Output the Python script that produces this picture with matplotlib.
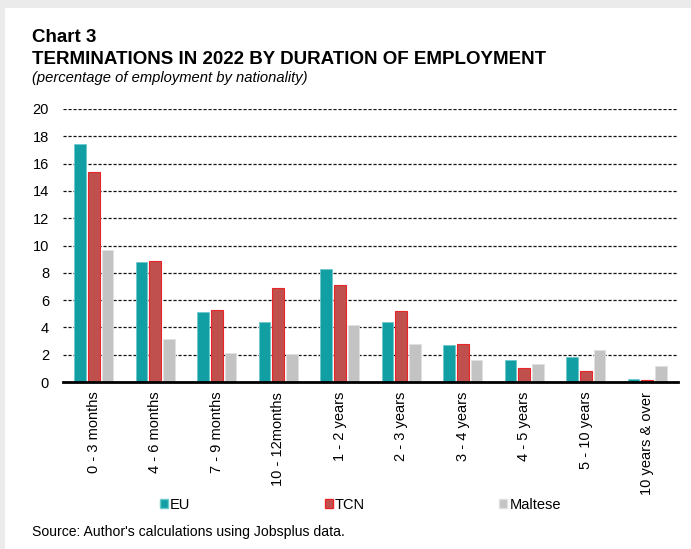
import matplotlib
matplotlib.use("Agg")
import matplotlib.pyplot as plt
from matplotlib.patches import Patch, Rectangle
import numpy as np

plt.rcParams['font.family'] = ['Liberation Sans', 'DejaVu Sans']

durations = ["0 - 3 months", "4 - 6 months", "7 - 9 months", "10 - 12months",
             "1 - 2 years", "2 - 3 years", "3 - 4 years", "4 - 5 years",
             "5 - 10 years", "10 years & over"]
eu = [17.4, 8.8, 5.1, 4.4, 8.3, 4.4, 2.7, 1.6, 1.8, 0.2]
tcn = [15.4, 8.85, 5.3, 6.9, 7.1, 5.2, 2.75, 1.0, 0.8, 0.13]
maltese = [9.7, 3.15, 2.1, 2.05, 4.15, 2.8, 1.6, 1.3, 2.35, 1.15]
series_names = ["EU", "TCN", "Maltese"]

teal = "#119fa4"
red = "#c0504d"
grey = "#c3c3c3"

fig = plt.figure(figsize=(6.91, 5.49), dpi=100, facecolor="white")
# grey frame along the top and left edges
frame = "#ebebeb"
fig.patches.append(Rectangle((0, 1 - 8 / 549), 1, 8 / 549, transform=fig.transFigure,
                             facecolor=frame, edgecolor="none"))
fig.patches.append(Rectangle((0, 0), 5 / 691, 1, transform=fig.transFigure,
                             facecolor=frame, edgecolor="none"))

ax = fig.add_axes([63 / 691, 1 - 382 / 549, 615 / 691, 273 / 549])
ax.set_facecolor("none")
ax.set_zorder(2)

x = np.arange(len(durations))
w = 0.19
step = 0.225
ax.bar(x - step, eu, w, color=teal, edgecolor="#6cc9cc", linewidth=0.6, zorder=3)
ax.bar(x, tcn, w, color=red, edgecolor="#e8262a", linewidth=0.8, zorder=3)
ax.bar(x + step, maltese, w, color=grey, edgecolor="#e0e0e0", linewidth=0.6, zorder=3)

ax.set_xlim(-0.5, len(durations) - 0.5)
ax.set_ylim(0, 20)
ax.set_yticks(range(0, 21, 2))
ax.yaxis.grid(True, color="#111111", linestyle=(0, (2.5, 1.5)), linewidth=0.9)
ax.set_axisbelow(True)
for s in ["left", "right", "top"]:
    ax.spines[s].set_visible(False)
ax.spines["bottom"].set_linewidth(2)
ax.spines["bottom"].set_color("black")
ax.spines["bottom"].set_zorder(4)
ax.tick_params(axis="both", length=0, labelsize=10.5, colors="black")
ax.tick_params(axis="y", pad=10)
ax.set_xticks(x)
ax.set_xticklabels(durations, rotation=90, fontsize=10.5)
ax.tick_params(axis="x", pad=7)

fig.text(32 / 691, 1 - 37 / 549, "Chart 3", fontsize=13.5, fontweight="bold", va="center")
fig.text(32 / 691, 1 - 59 / 549, "TERMINATIONS IN 2022 BY DURATION OF EMPLOYMENT",
         fontsize=13.5, fontweight="bold", va="center")
fig.text(32 / 691, 1 - 78 / 549, "(percentage of employment by nationality)",
         fontsize=10.6, style="italic", va="center")
fig.text(32 / 691, 1 - 532 / 549, "Source: Author's calculations using Jobsplus data.",
         fontsize=10.1, va="center")

handles = [Patch(facecolor=teal, edgecolor="#6cc9cc"),
           Patch(facecolor=red, edgecolor="#e8262a"),
           Patch(facecolor=grey, edgecolor="#e0e0e0")]
fig.legend(handles, series_names, loc="center left", bbox_to_anchor=(160 / 691, 1 - 505 / 549),
           ncol=3, frameon=False, fontsize=10.5, handlelength=0.55, handleheight=0.55,
           handletextpad=0.15, columnspacing=9.2, borderpad=0, borderaxespad=0)

fig.savefig("out.png", dpi=100, facecolor=fig.get_facecolor())
